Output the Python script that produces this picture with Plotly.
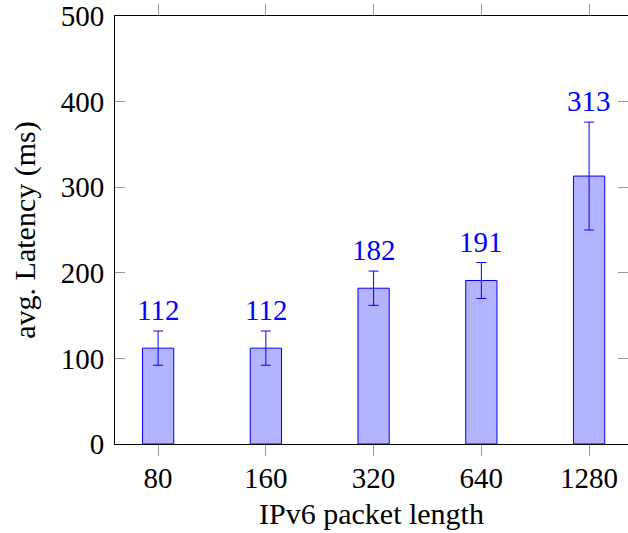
import plotly.graph_objects as go

categories = ["80", "160", "320", "640", "1280"]
latency = [112, 112, 182, 191, 313]
errors = [20, 20, 20, 21, 63]
y_ticks = [0, 100, 200, 300, 400, 500]

FONT = "Liberation Serif"
BLUE = "#0000ff"
FILL = "#b3b3ff"

xpos = list(range(len(categories)))

fig = go.Figure()
fig.add_trace(go.Bar(
    x=xpos, y=latency, width=0.29,
    marker=dict(color=FILL, line=dict(color=BLUE, width=1)),
    error_y=dict(type="data", array=errors, visible=True, color=BLUE, thickness=1, width=5),
    showlegend=False, hoverinfo="skip",
))
for x, v, e in zip(xpos, latency, errors):
    fig.add_annotation(
        x=x, y=v + e, text=str(v), showarrow=False, yanchor="bottom", yshift=3,
        font=dict(family=FONT, size=29, color=BLUE),
    )
# right-side mirrored ticks (no line)
fig.add_trace(go.Scatter(x=[None], y=[None], yaxis="y2", showlegend=False))

fig.update_layout(
    width=628, height=533,
    margin=dict(l=115, r=0, t=14, b=89),
    paper_bgcolor="white", plot_bgcolor="white",
    font=dict(family=FONT, size=29, color="black"),
    xaxis=dict(
        range=[-0.4, 4.361], tickmode="array", tickvals=xpos, ticktext=categories,
        ticks="outside", ticklen=11, tickcolor="#999999", tickwidth=1,
        showline=True, linecolor="black", linewidth=1, mirror="ticks",
        showgrid=False, zeroline=False, ticklabelstandoff=-3,
        title=dict(text="IPv6 packet length", standoff=10, font=dict(size=30)),
    ),
    yaxis=dict(
        range=[0, 500], tickmode="array", tickvals=y_ticks,
        ticks="inside", ticklen=10, tickcolor="#999999", tickwidth=1,
        showline=True, linecolor="black", linewidth=1, ticklabeloverflow="allow",
        showgrid=False, zeroline=False, ticklabelstandoff=4,
        title=dict(text="avg. Latency (ms)", standoff=16, font=dict(size=30)),
    ),
    yaxis2=dict(
        range=[0, 500], overlaying="y", side="right", tickmode="array", tickvals=y_ticks,
        ticks="inside", ticklen=10, tickcolor="#999999", tickwidth=1,
        showticklabels=False, showline=False, showgrid=False, zeroline=False,
    ),
)

fig.write_html("out.html")
